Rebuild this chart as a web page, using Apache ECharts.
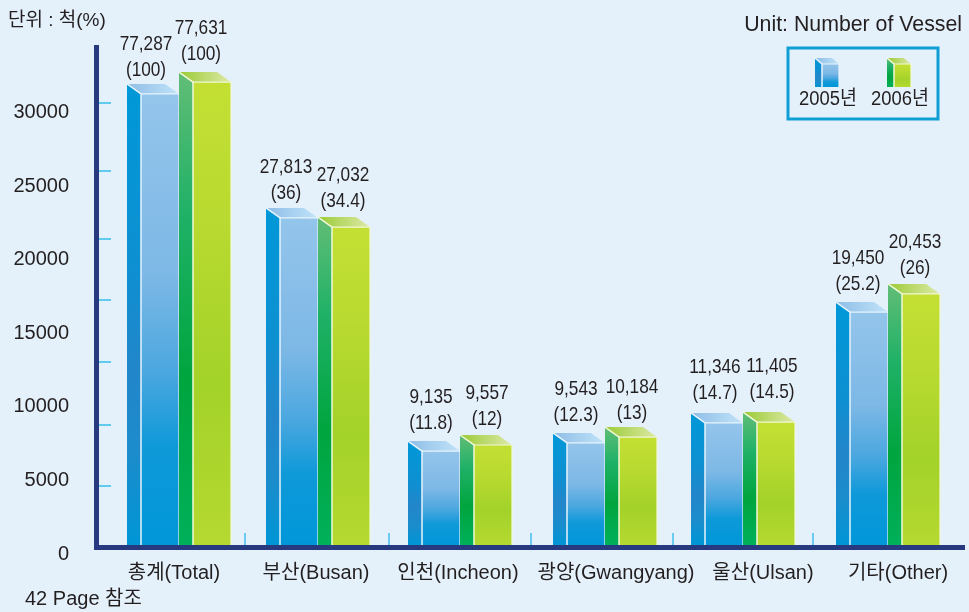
<!DOCTYPE html>
<html>
<head>
<meta charset="utf-8">
<title>chart</title>
<style>
  html, body { margin: 0; padding: 0; background: #e4f1fb; }
  #main { width: 969px; height: 612px; }
</style>
<script src="https://cdn.jsdelivr.net/npm/echarts@6/dist/echarts.min.js"></script>
</head>
<body>
<div id="main"></div>
<script>
const categories = ['총계(Total)', '부산(Busan)', '인천(Incheon)', '광양(Gwangyang)', '울산(Ulsan)', '기타(Other)'];
const seriesNames = ['2005년', '2006년'];

// the bars in the source do not follow their printed numbers, so the heights
// are read off the left axis and the printed numbers are kept apart
const heights2005 = [30670, 22240, 6390, 6940, 8300, 15840];
const heights2006 = [31480, 21620, 6800, 7340, 8360, 17070];
const printed2005 = ['77,287\n(100)', '27,813\n(36)', '9,135\n(11.8)', '9,543\n(12.3)', '11,346\n(14.7)', '19,450\n(25.2)'];
const printed2006 = ['77,631\n(100)', '27,032\n(34.4)', '9,557\n(12)', '10,184\n(13)', '11,405\n(14.5)', '20,453\n(26)'];

const yLabelValues = [0, 5000, 10000, 15000, 20000, 25000, 30000];
// tick marks do not line up with the labels in the source
const yTickValues = [4010, 8160, 12440, 16660, 20855, 25450, 30050];
const xTickValues = [245, 389, 531, 673, 813];

const FONT = '"Liberation Sans", "Noto Sans CJK KR", sans-serif';
const TEXT = '#231f20';
const SIDE_W = 14, FRONT_W = 38, DEPTH = 10;
// the source places its groups and labels by hand, these are the small offsets in px
const groupShift = [5, 2, 2, 5, 1, 4];
const labelShift = [20, 25];
const labelNudgeX = [[-1, 0, 3, 3, 4, 2], [-3, 0, 2, 2, 4, 2]];
const labelNudgeY = [[1, 0, -3, -3, -5, -3], [-3, -1, -1, 1, -5, -1]];
const catLabelPad = [0, 0, 0, 32, 42, 28];

function vgrad(stops) {
    return { type: 'linear', x: 0, y: 0, x2: 0, y2: 1,
        colorStops: stops.map(s => ({ offset: s[0], color: s[1] })) };
}
function hgrad(a, b) {
    return { type: 'linear', x: 0, y: 0, x2: 1, y2: 0,
        colorStops: [{ offset: 0, color: a }, { offset: 1, color: b }] };
}

const palettes = [
    {
        side: vgrad([[0, '#0098d8'], [0.4, '#0e90d2'], [0.62, '#2286ca'], [0.8, '#1c8ccc'], [1, '#0096d6']]),
        front: vgrad([[0, '#94c5eb'], [0.4, '#7db8e6'], [0.62, '#4aa7df'], [0.78, '#0f99d9'], [1, '#0097d9']]),
        top: hgrad('#8fbde7', '#c0e3f8'),
        edge: '#e8f4fc'
    },
    {
        side: vgrad([[0, '#62bd76'], [0.3, '#1fb167'], [0.65, '#00a53e'], [1, '#00b05a']]),
        front: vgrad([[0, '#c3df34'], [0.3, '#b9da30'], [0.65, '#a3d229'], [1, '#b5d930']]),
        top: hgrad('#9bcb36', '#dde9a6'),
        edge: '#f2f8d8'
    }
];

// side, top and front of a box whose side starts at x and front top is at y
function boxFaces(x, y, base, sideW, frontW, depth, pal) {
    const fx = x + sideW;
    return [
        { type: 'polygon', shape: { points: [[x, y - depth], [fx, y], [fx, base], [x, base]] }, style: { fill: pal.side } },
        { type: 'polygon', shape: { points: [[x, y - depth], [fx, y], [fx + frontW, y], [x + frontW, y - depth]] }, style: { fill: pal.top } },
        { type: 'rect', shape: { x: fx, y: y, width: frontW, height: base - y }, style: { fill: pal.front } },
        { type: 'polyline', shape: { points: [[x, y - depth], [fx, y], [fx, base]] }, style: { stroke: pal.edge, fill: null, lineWidth: 1.5 } },
        { type: 'polyline', shape: { points: [[fx, y], [fx + frontW, y], [fx + frontW, base]] }, style: { stroke: pal.edge, fill: null, lineWidth: 1.2 } }
    ];
}

function boxSeries(name, seriesIndex, heights, printed) {
    return {
        type: 'custom',
        name: name,
        xAxisIndex: 0,
        yAxisIndex: 0,
        clip: false,
        encode: { x: 0, y: 1 },
        data: heights.map((v, i) => [i, v]),
        renderItem: function (params, api) {
            const i = api.value(0);
            const top = api.coord([i, api.value(1)]);
            const base = api.coord([i, 0])[1];
            const x = top[0] + groupShift[i] + (seriesIndex === 0 ? -(SIDE_W + FRONT_W) : 0);
            const faces = boxFaces(x, top[1], base, SIDE_W, FRONT_W, DEPTH, palettes[seriesIndex]);
            faces.push({
                type: 'text',
                x: x + labelShift[seriesIndex] + labelNudgeX[seriesIndex][i],
                y: top[1] - DEPTH - 2 + labelNudgeY[seriesIndex][i],
                scaleX: 0.82,
                style: {
                    text: printed[i],
                    fontFamily: FONT,
                    fontSize: 21,
                    lineHeight: 26,
                    fill: TEXT,
                    textAlign: 'center',
                    textVerticalAlign: 'bottom'
                }
            });
            return { type: 'group', children: faces };
        }
    };
}

function legendItem(name, x, pal, labelX) {
    return boxFaces(x, 64, 87, 7, 17, 6, pal).concat([{
        type: 'text',
        x: labelX,
        y: 99,
        scaleX: 0.92,
        style: { text: name, fontFamily: FONT, fontSize: 20, fill: TEXT, textAlign: 'center', textVerticalAlign: 'middle' }
    }]);
}

const topText = (text, x, y, font, size, align) => ({
    type: 'text', x: x, y: y,
    style: { text: text, fontFamily: font, fontSize: size, fill: TEXT, textAlign: align || 'left', textVerticalAlign: 'middle' }
});

const catRich = {};
catLabelPad.forEach((pad, i) => {
    catRich['c' + i] = { fontFamily: FONT, fontSize: 20, color: TEXT, padding: [0, 0, 0, pad] };
});

const chart = echarts.init(document.getElementById('main'), null, { renderer: 'canvas' });
chart.setOption({
    backgroundColor: '#e4f1fb',
    animation: false,
    grid: [
        { left: 103, width: 852, top: 45, height: 500 },
        // wider frame that only carries the axis lines and the tick marks
        { left: 94, width: 871, top: 45, height: 500 }
    ],
    xAxis: [
        {
            type: 'category',
            gridIndex: 0,
            position: 'bottom',
            data: categories,
            axisLine: { show: false },
            axisTick: { show: false },
            axisLabel: {
                margin: 18,
                color: TEXT,
                fontFamily: FONT,
                fontSize: 20,
                interval: 0,
                hideOverlap: false,
                formatter: (v, i) => '{c' + i + '|' + v + '}',
                rich: catRich
            }
        },
        {
            type: 'value',
            gridIndex: 1,
            position: 'bottom',
            min: 94,
            max: 965,
            splitLine: { show: false },
            axisLabel: { show: false },
            axisLine: { show: false },
            axisTick: { show: true, inside: true, length: 12, customValues: xTickValues, lineStyle: { color: '#45bfee', width: 1.5 } }
        },
        {
            type: 'value',
            gridIndex: 1,
            position: 'bottom',
            min: 94,
            max: 965,
            offset: 2.5,
            splitLine: { show: false },
            axisLabel: { show: false },
            axisTick: { show: false },
            axisLine: { show: true, lineStyle: { color: '#27397f', width: 5, cap: 'butt' } }
        }
    ],
    yAxis: [
        {
            type: 'value',
            gridIndex: 0,
            min: 0,
            max: 34000,
            offset: 4,
            splitLine: { show: false },
            axisLine: { show: false },
            axisTick: { show: true, inside: true, length: 12, customValues: yTickValues, lineStyle: { color: '#36bdee', width: 1.5 } },
            axisLabel: {
                customValues: yLabelValues,
                margin: 30,
                color: TEXT,
                fontFamily: FONT,
                fontSize: 20,
                formatter: v => '{y|' + v + '}',
                rich: { y: { fontFamily: FONT, fontSize: 20, color: TEXT, padding: [18, 0, 0, 0] } }
            }
        },
        {
            type: 'value',
            gridIndex: 1,
            min: 0,
            max: 1,
            offset: -2.5,
            splitLine: { show: false },
            axisLabel: { show: false },
            axisTick: { show: false },
            axisLine: { show: true, lineStyle: { color: '#27397f', width: 5, cap: 'butt' } }
        }
    ],
    series: [
        boxSeries(seriesNames[0], 0, heights2005, printed2005),
        boxSeries(seriesNames[1], 1, heights2006, printed2006)
    ],
    graphic: [
        topText('단위 : 척(%)', 8, 21, FONT, 19),
        topText('Unit: Number of Vessel', 962, 25, FONT, 21.3, 'right'),
        topText('42 Page 참조', 25, 599, FONT, 20),
        {
            type: 'rect',
            shape: { x: 788, y: 48, width: 150, height: 71 },
            style: { fill: null, stroke: '#0f9fd5', lineWidth: 3 }
        },
        { type: 'group', children: legendItem(seriesNames[0], 815, palettes[0], 828) },
        { type: 'group', children: legendItem(seriesNames[1], 887, palettes[1], 900) }
    ]
});
</script>
</body>
</html>
